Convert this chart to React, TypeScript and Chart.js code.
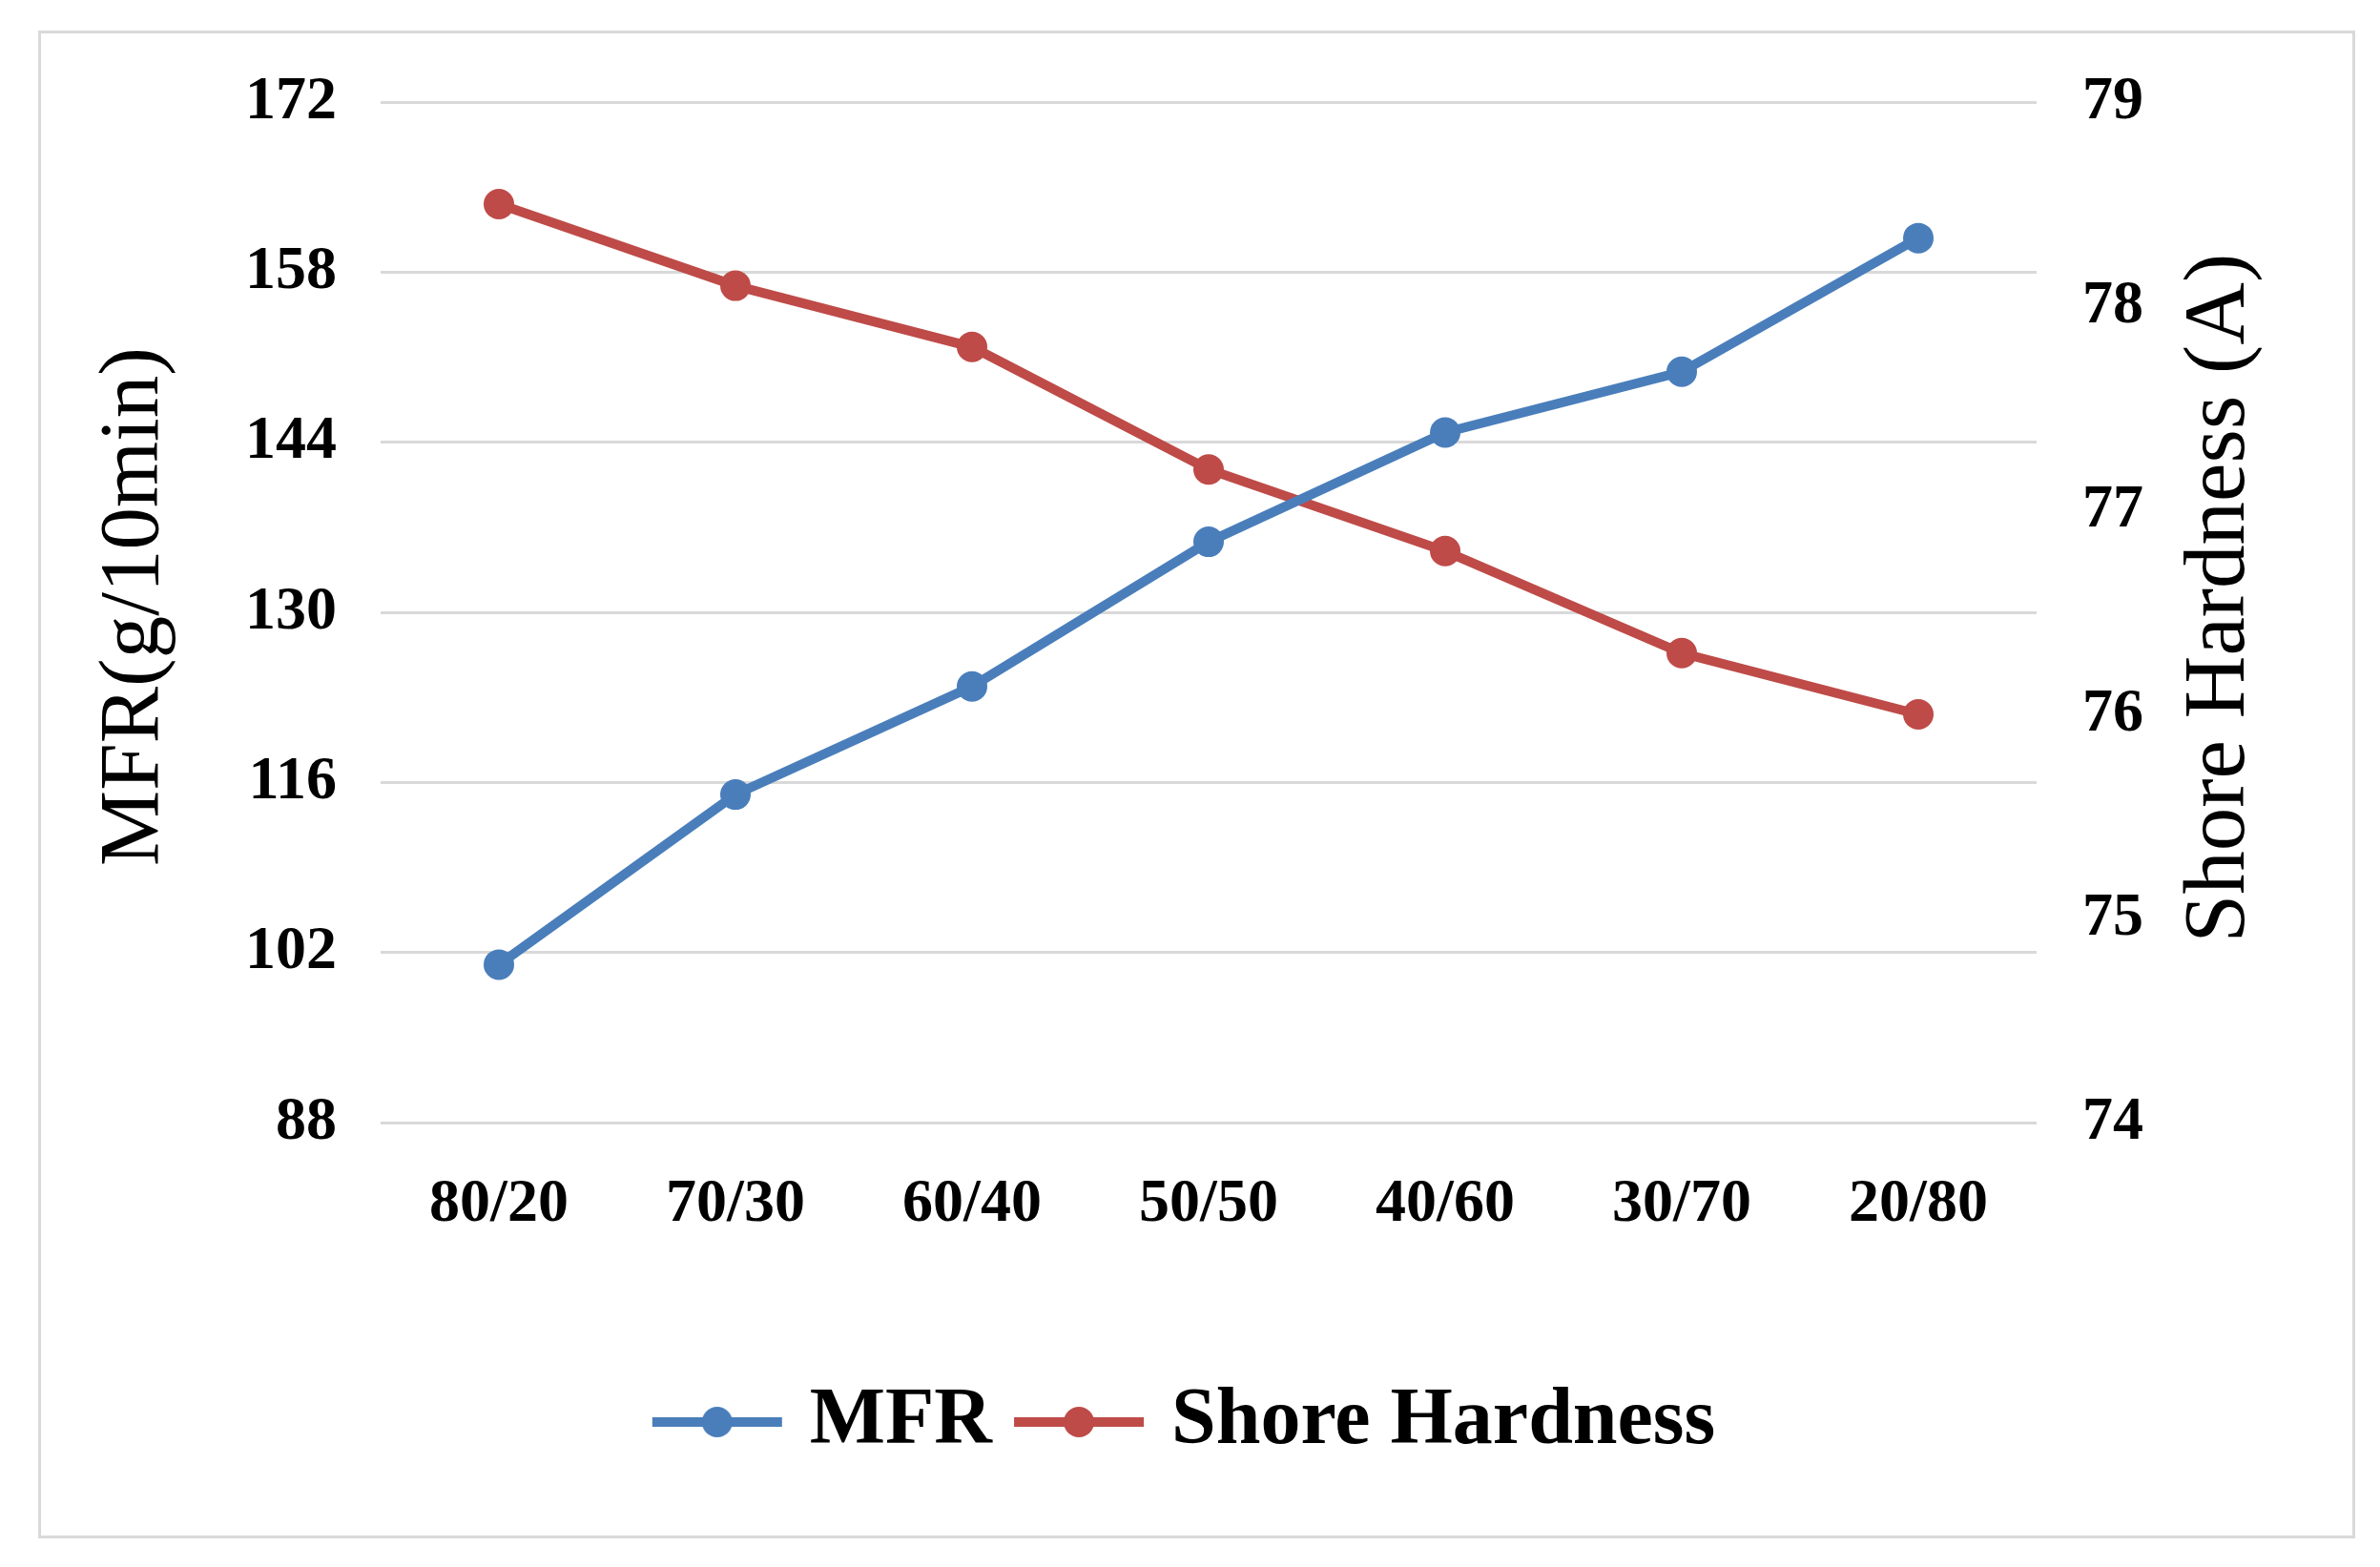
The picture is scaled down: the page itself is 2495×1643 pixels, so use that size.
import React, { useEffect, useRef } from "react";
import { Chart, registerables } from "chart.js";

Chart.register(...registerables);

const categories = ["80/20", "70/30", "60/40", "50/50", "40/60", "30/70", "20/80"];
const mfrValues = [101.0, 115.0, 123.9, 135.8, 144.8, 149.8, 160.8];
const shoreValues = [78.5, 78.1, 77.8, 77.2, 76.8, 76.3, 76.0];
const leftTicks = [88, 102, 116, 130, 144, 158, 172];
const rightTicks = [74, 75, 76, 77, 78, 79];
const leftTitle = "MFR(g/10min)";
const rightTitle = "Shore Hardness (A)";
const seriesNames = ["MFR", "Shore Hardness"];

const BLUE = "#4A7EBB";
const RED = "#BE4B48";
const FONT = "'Liberation Serif', 'Times New Roman', serif";

function makeLegendIcon(color: string): HTMLCanvasElement {
  const c = document.createElement("canvas");
  c.width = 140;
  c.height = 36;
  const ctx = c.getContext("2d")!;
  ctx.strokeStyle = color;
  ctx.lineWidth = 10;
  ctx.beginPath();
  ctx.moveTo(2, 18);
  ctx.lineTo(138, 18);
  ctx.stroke();
  ctx.fillStyle = color;
  ctx.beginPath();
  ctx.arc(70, 18, 16, 0, Math.PI * 2);
  ctx.fill();
  return c;
}

const titlesPlugin = {
  id: "axisTitles",
  afterDraw(chart: any) {
    const ctx = chart.ctx;
    const draw = (text: string, x: number, y: number, size: number) => {
      ctx.save();
      ctx.fillStyle = "#000";
      ctx.font = `${size}px ${FONT}`;
      ctx.textAlign = "center";
      ctx.textBaseline = "middle";
      ctx.translate(x, y);
      ctx.rotate(-Math.PI / 2);
      ctx.fillText(text, 0, 0);
      ctx.restore();
    };
    draw(leftTitle, 142, 636, 89);
    draw(rightTitle, 2328, 627, 91);
  },
};

export default function App() {
  const ref = useRef<HTMLCanvasElement>(null);
  useEffect(() => {
    if (!ref.current) return;
    const icons = [makeLegendIcon(BLUE), makeLegendIcon(RED)];
    const chart = new Chart(ref.current, {
      type: "line",
      data: {
        labels: categories,
        datasets: [
          {
            label: seriesNames[0],
            data: mfrValues,
            borderColor: BLUE,
            backgroundColor: BLUE,
            borderWidth: 10,
            pointRadius: 16,
            pointBackgroundColor: BLUE,
            pointBorderWidth: 0,
            pointStyle: "circle",
            yAxisID: "y",
          },
          {
            label: seriesNames[1],
            data: shoreValues,
            borderColor: RED,
            backgroundColor: RED,
            borderWidth: 10,
            pointRadius: 16,
            pointBackgroundColor: RED,
            pointBorderWidth: 0,
            pointStyle: "circle",
            yAxisID: "y1",
          },
        ],
      },
      options: {
        responsive: false,
        animation: false,
        layout: { padding: { left: 0, right: 0, top: 107, bottom: 100 } },
        plugins: {
          legend: {
            display: true,
            position: "bottom",
            labels: {
              usePointStyle: true,
              pointStyleWidth: 110,
              boxHeight: 30,
              padding: 36,
              color: "#000",
              font: { family: FONT, size: 84, weight: "bold" },
              generateLabels: (chart: any) =>
                chart.data.datasets.map((ds: any, i: number) => ({
                  text: ds.label,
                  fillStyle: ds.borderColor,
                  strokeStyle: ds.borderColor,
                  lineWidth: 0,
                  pointStyle: icons[i],
                  hidden: false,
                  datasetIndex: i,
                  fontColor: "#000",
                })),
            },
          },
          tooltip: { enabled: false },
        },
        scales: {
          x: {
            offset: true,
            grid: { display: false, drawTicks: false },
            border: { display: false },
            ticks: { color: "#000", padding: 48, font: { family: FONT, size: 64, weight: "bold" } },
            afterFit: (s: any) => {
              s.height = 236;
            },
          },
          y: {
            position: "left",
            min: 88,
            max: 172,
            afterBuildTicks: (s: any) => {
              s.ticks = leftTicks.map((v) => ({ value: v }));
            },
            grid: { color: "#D9D9D9", lineWidth: 3, drawTicks: false },
            border: { display: false },
            ticks: { color: "#000", padding: 46, font: { family: FONT, size: 64, weight: "bold" } },
            afterFit: (s: any) => {
              s.width = 399;
            },
          },
          y1: {
            position: "right",
            min: 74,
            max: 79,
            afterBuildTicks: (s: any) => {
              s.ticks = rightTicks.map((v) => ({ value: v }));
            },
            grid: { display: false, drawTicks: false },
            border: { display: false },
            ticks: { color: "#000", padding: 48, font: { family: FONT, size: 64, weight: "bold" } },
            afterFit: (s: any) => {
              s.width = 360;
            },
          },
        },
      },
      plugins: [titlesPlugin],
    } as any);
    return () => chart.destroy();
  }, []);

  return (
    <div style={{ position: "absolute", left: 0, top: 0, width: 2495, height: 1643, background: "#fff" }}>
      <div
        style={{
          position: "absolute",
          left: 40,
          top: 32,
          width: 2423,
          height: 1575,
          border: "3px solid #D9D9D9",
        }}
      />
      <canvas ref={ref} width={2495} height={1643} style={{ position: "absolute", left: 0, top: 0 }} />
    </div>
  );
}
